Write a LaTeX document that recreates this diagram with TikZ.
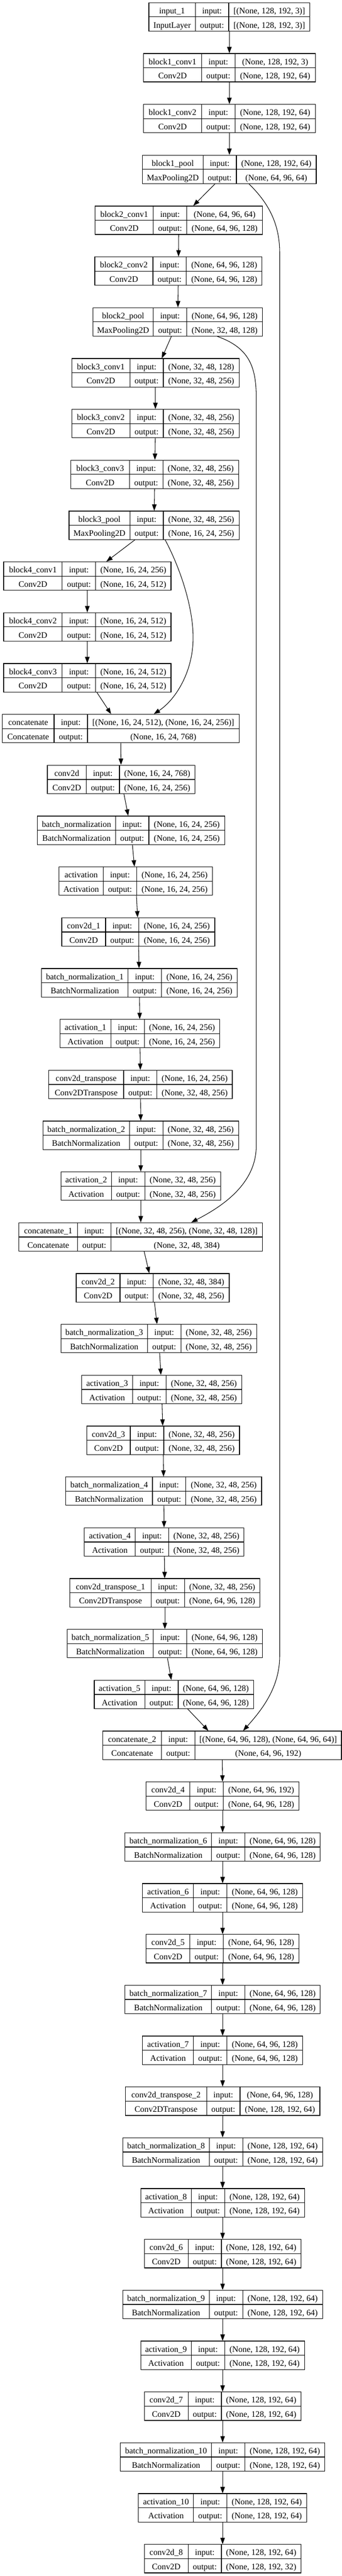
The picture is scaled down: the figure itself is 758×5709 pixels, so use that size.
\documentclass[tikz,border=0pt]{standalone}
\usepackage{fontspec}
\setmainfont{Liberation Serif}
\usetikzlibrary{arrows.meta}

% one layer record: id, row, left, first divider, right, name, class, input, output
\newcommand{\layer}[9]{%
  \pgfmathsetmacro{\lytop}{6+112.66*#2}%
  \pgfmathsetmacro{\lxsep}{#4+74}%
  \pgfmathsetmacro{\lwidth}{#5-#3}%
  \node[layerbox, minimum width=\lwidth pt] (#1) at ({(#3+#5)/2},{\lytop+31.5}) {};
  \draw[divider] (#1.west) -- (#1.east);
  \draw[divider] (#4,\lytop) -- (#4,{\lytop+63});
  \draw[divider] (\lxsep,\lytop) -- (\lxsep,{\lytop+63});
  \node[txt] (#1-name) at ({(#3+#4)/2},{\lytop+24.25}) {#6};
  \node[txt] (#1-class) at ({(#3+#4)/2},{\lytop+55.75}) {#7};
  \node[txt] (#1-kin) at ({\lxsep-37},{\lytop+24.25}) {input:};
  \node[txt] (#1-kout) at ({\lxsep-37},{\lytop+55.75}) {output:};
  \node[txt] (#1-in) at ({(\lxsep+#5)/2},{\lytop+24.25}) {#8};
  \node[txt] (#1-out) at ({(\lxsep+#5)/2},{\lytop+55.75}) {#9};
}

\begin{document}
\begin{tikzpicture}[x=1pt, y=-1pt,
  layerbox/.style={draw, rectangle, line width=1.4pt, minimum height=63pt, inner sep=0pt},
  divider/.style={line width=1.4pt},
  txt/.style={anchor=base, inner sep=0pt, font=\fontsize{18.67pt}{22pt}\selectfont},
  link/.style={line width=1.2pt, -{Triangle[length=14pt,width=10pt]}}]
  \path[use as bounding box, fill=white] (0,0) rectangle (758,5709);

  \layer{L0}{0}{330}{433}{687}{input\_1}{InputLayer}{[(None, 128, 192, 3)]}{[(None, 128, 192, 3)]}
  \layer{L1}{1}{318}{447}{699}{block1\_conv1}{Conv2D}{(None, 128, 192, 3)}{(None, 128, 192, 64)}
  \layer{L2}{2}{318}{447}{699}{block1\_conv2}{Conv2D}{(None, 128, 192, 64)}{(None, 128, 192, 64)}
  \layer{L3}{3}{316}{450}{701}{block1\_pool}{MaxPooling2D}{(None, 128, 192, 64)}{(None, 64, 96, 64)}
  \layer{L4}{4}{211}{340}{582}{block2\_conv1}{Conv2D}{(None, 64, 96, 64)}{(None, 64, 96, 128)}
  \layer{L5}{5}{210}{339}{581}{block2\_conv2}{Conv2D}{(None, 64, 96, 128)}{(None, 64, 96, 128)}
  \layer{L6}{6}{206}{340}{582}{block2\_pool}{MaxPooling2D}{(None, 64, 96, 128)}{(None, 32, 48, 128)}
  \layer{L7}{7}{159}{288}{530}{block3\_conv1}{Conv2D}{(None, 32, 48, 128)}{(None, 32, 48, 256)}
  \layer{L8}{8}{159}{288}{530}{block3\_conv2}{Conv2D}{(None, 32, 48, 256)}{(None, 32, 48, 256)}
  \layer{L9}{9}{157}{287}{529}{block3\_conv3}{Conv2D}{(None, 32, 48, 256)}{(None, 32, 48, 256)}
  \layer{L10}{10}{153}{288}{530}{block3\_pool}{MaxPooling2D}{(None, 32, 48, 256)}{(None, 16, 24, 256)}
  \layer{L11}{11}{8}{138}{379}{block4\_conv1}{Conv2D}{(None, 16, 24, 256)}{(None, 16, 24, 512)}
  \layer{L12}{12}{8}{138}{379}{block4\_conv2}{Conv2D}{(None, 16, 24, 512)}{(None, 16, 24, 512)}
  \layer{L13}{13}{8}{138}{379}{block4\_conv3}{Conv2D}{(None, 16, 24, 512)}{(None, 16, 24, 512)}
  \layer{L14}{14}{5}{120}{530}{concatenate}{Concatenate}{[(None, 16, 24, 512), (None, 16, 24, 256)]}{(None, 16, 24, 768)}
  \layer{L15}{15}{105}{191}{432}{conv2d}{Conv2D}{(None, 16, 24, 768)}{(None, 16, 24, 256)}
  \layer{L16}{16}{83}{256}{498}{batch\_normalization}{BatchNormalization}{(None, 16, 24, 256)}{(None, 16, 24, 256)}
  \layer{L17}{17}{131}{229}{471}{activation}{Activation}{(None, 16, 24, 256)}{(None, 16, 24, 256)}
  \layer{L18}{18}{137}{234}{476}{conv2d\_1}{Conv2D}{(None, 16, 24, 256)}{(None, 16, 24, 256)}
  \layer{L19}{19}{92}{284}{526}{batch\_normalization\_1}{BatchNormalization}{(None, 16, 24, 256)}{(None, 16, 24, 256)}
  \layer{L20}{20}{133}{246}{487}{activation\_1}{Activation}{(None, 16, 24, 256)}{(None, 16, 24, 256)}
  \layer{L21}{21}{108}{274}{515}{conv2d\_transpose}{Conv2DTranspose}{(None, 16, 24, 256)}{(None, 32, 48, 256)}
  \layer{L22}{22}{95}{287}{529}{batch\_normalization\_2}{BatchNormalization}{(None, 32, 48, 256)}{(None, 32, 48, 256)}
  \layer{L23}{23}{135}{247}{489}{activation\_2}{Activation}{(None, 32, 48, 256)}{(None, 32, 48, 256)}
  \layer{L24}{24}{42}{172}{582}{concatenate\_1}{Concatenate}{[(None, 32, 48, 256), (None, 32, 48, 128)]}{(None, 32, 48, 384)}
  \layer{L25}{25}{169}{266}{508}{conv2d\_2}{Conv2D}{(None, 32, 48, 384)}{(None, 32, 48, 256)}
  \layer{L26}{26}{135}{327}{569}{batch\_normalization\_3}{BatchNormalization}{(None, 32, 48, 256)}{(None, 32, 48, 256)}
  \layer{L27}{27}{181}{294}{536}{activation\_3}{Activation}{(None, 32, 48, 256)}{(None, 32, 48, 256)}
  \layer{L28}{28}{192}{289}{531}{conv2d\_3}{Conv2D}{(None, 32, 48, 256)}{(None, 32, 48, 256)}
  \layer{L29}{29}{146}{338}{580}{batch\_normalization\_4}{BatchNormalization}{(None, 32, 48, 256)}{(None, 32, 48, 256)}
  \layer{L30}{30}{187}{300}{541}{activation\_4}{Activation}{(None, 32, 48, 256)}{(None, 32, 48, 256)}
  \layer{L31}{31}{155}{335}{576}{conv2d\_transpose\_1}{Conv2DTranspose}{(None, 32, 48, 256)}{(None, 64, 96, 128)}
  \layer{L32}{32}{149}{340}{582}{batch\_normalization\_5}{BatchNormalization}{(None, 64, 96, 128)}{(None, 64, 96, 128)}
  \layer{L33}{33}{209}{321}{562}{activation\_5}{Activation}{(None, 64, 96, 128)}{(None, 64, 96, 128)}
  \layer{L34}{34}{228}{358}{757}{concatenate\_2}{Concatenate}{[(None, 64, 96, 128), (None, 64, 96, 64)]}{(None, 64, 96, 192)}
  \layer{L35}{35}{324}{421}{663}{conv2d\_4}{Conv2D}{(None, 64, 96, 192)}{(None, 64, 96, 128)}
  \layer{L36}{36}{277}{469}{710}{batch\_normalization\_6}{BatchNormalization}{(None, 64, 96, 128)}{(None, 64, 96, 128)}
  \layer{L37}{37}{316}{429}{671}{activation\_6}{Activation}{(None, 64, 96, 128)}{(None, 64, 96, 128)}
  \layer{L38}{38}{324}{421}{663}{conv2d\_5}{Conv2D}{(None, 64, 96, 128)}{(None, 64, 96, 128)}
  \layer{L39}{39}{277}{469}{710}{batch\_normalization\_7}{BatchNormalization}{(None, 64, 96, 128)}{(None, 64, 96, 128)}
  \layer{L40}{40}{316}{429}{671}{activation\_7}{Activation}{(None, 64, 96, 128)}{(None, 64, 96, 128)}
  \layer{L41}{41}{278}{458}{709}{conv2d\_transpose\_2}{Conv2DTranspose}{(None, 64, 96, 128)}{(None, 128, 192, 64)}
  \layer{L42}{42}{272}{464}{715}{batch\_normalization\_8}{BatchNormalization}{(None, 128, 192, 64)}{(None, 128, 192, 64)}
  \layer{L43}{43}{312}{424}{675}{activation\_8}{Activation}{(None, 128, 192, 64)}{(None, 128, 192, 64)}
  \layer{L44}{44}{320}{417}{667}{conv2d\_6}{Conv2D}{(None, 128, 192, 64)}{(None, 128, 192, 64)}
  \layer{L45}{45}{272}{464}{715}{batch\_normalization\_9}{BatchNormalization}{(None, 128, 192, 64)}{(None, 128, 192, 64)}
  \layer{L46}{46}{312}{424}{675}{activation\_9}{Activation}{(None, 128, 192, 64)}{(None, 128, 192, 64)}
  \layer{L47}{47}{320}{417}{667}{conv2d\_7}{Conv2D}{(None, 128, 192, 64)}{(None, 128, 192, 64)}
  \layer{L48}{48}{267}{469}{720}{batch\_normalization\_10}{BatchNormalization}{(None, 128, 192, 64)}{(None, 128, 192, 64)}
  \layer{L49}{49}{307}{429}{680}{activation\_10}{Activation}{(None, 128, 192, 64)}{(None, 128, 192, 64)}
  \layer{L50}{50}{320}{417}{667}{conv2d\_8}{Conv2D}{(None, 128, 192, 64)}{(None, 128, 192, 32)}

  \foreach \i [remember=\i as \j (initially 0)] in {1,...,50}
    \draw[link] (L\j) -- (L\i);

  % skip connections
  \draw[link] ([xshift=43.5pt]L3.south) .. controls (590,445) and (620,490) .. (620,560)
    -- (620,3670) .. controls (620,3740) and (580,3790) .. ([xshift=46.5pt]L34.north);
  \draw[link] ([xshift=88pt]L6.south) .. controls (550,770) and (568,810) .. (568,880)
    -- (568,2540) .. controls (568,2630) and (480,2680) .. ([xshift=112pt]L24.north);
  \draw[link] ([xshift=24.5pt]L10.south) .. controls (400,1260) and (430,1350) .. (428,1420)
    .. controls (426,1490) and (390,1550) .. ([xshift=73.5pt]L14.north);
\end{tikzpicture}
\end{document}
